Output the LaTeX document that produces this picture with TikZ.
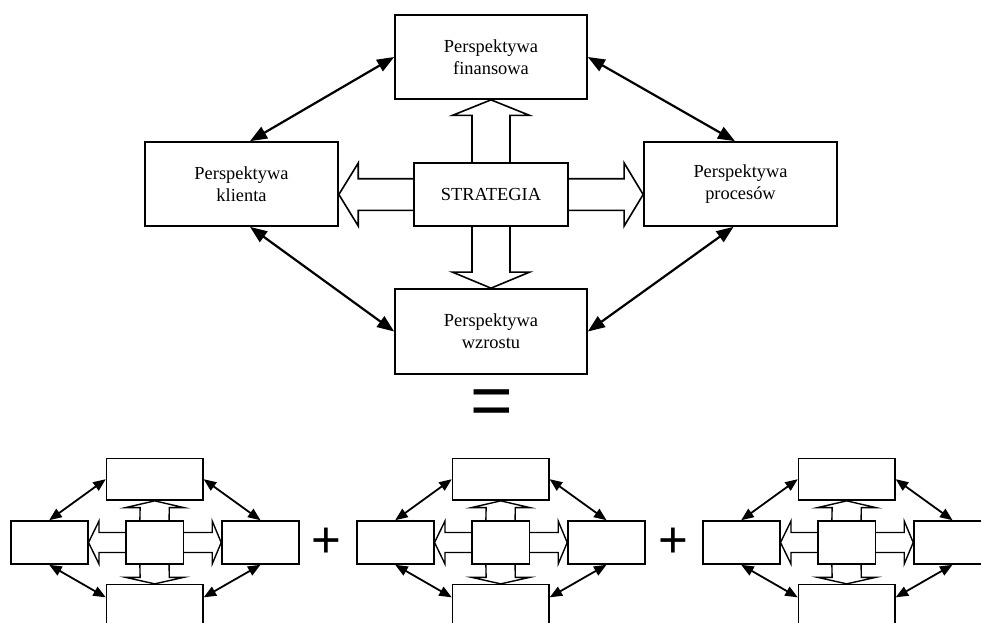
\documentclass[tikz,border=0pt]{standalone}
\usepackage{fontspec}
\setmainfont{Liberation Serif}
\newfontfamily\signfont{Liberation Sans}
\usetikzlibrary{arrows.meta,calc}
\begin{document}
\begin{tikzpicture}[x=1pt,y=-1pt,
  bigbox/.style={draw,line width=1.7pt,inner sep=0pt,align=center,
    font=\fontsize{18.4}{22}\selectfont},
  minibox/.style={draw,line width=1.6pt,inner sep=0pt},
  dbl/.style={line width=2.2pt,{Triangle[length=17pt,width=13pt]}-{Triangle[length=17pt,width=13pt]}},
  minidbl/.style={line width=1.8pt,{Triangle[length=12.5pt,width=10pt]}-{Triangle[length=12.5pt,width=10pt]}},
  hollow/.style={line width=1.6pt,line join=miter},
  minihollow/.style={line width=1.4pt,line join=miter},
  signtext/.style={inner sep=0pt,font=\signfont\fontsize{#1}{#1}\selectfont}]
\useasboundingbox (0,0) rectangle (981,622);
\clip (0,0) rectangle (981,622);

% ---- main diagram ----
\node[bigbox,minimum width=192pt,minimum height=84pt] (t) at (491,57) {Perspektywa\\finansowa};
\node[bigbox,minimum width=193pt,minimum height=84pt] (l) at (241.5,184) {Perspektywa\\klienta};
\node[bigbox,minimum width=193pt,minimum height=84pt] (r) at (740.5,184) {Perspektywa\\procesów};
\node[bigbox,minimum width=154pt,minimum height=63pt] (s) at (491,194.5) {STRATEGIA};
\node[bigbox,minimum width=192pt,minimum height=85pt] (b) at (491,331.5) {Perspektywa\\wzrostu};

% hollow arrows
\draw[hollow] ($(s.north)+(-19,0)$) -- ($(t.south)+(-19,15.5)$) -- ($(t.south)+(-38.5,15.5)$)
  -- (t.south) -- ($(t.south)+(38.5,15.5)$) -- ($(t.south)+(19,15.5)$) -- ($(s.north)+(19,0)$);
\draw[hollow] ($(s.south)+(-19,0)$) -- ($(b.north)+(-19,-16)$) -- ($(b.north)+(-38.5,-16)$)
  -- (b.north) -- ($(b.north)+(38.5,-16)$) -- ($(b.north)+(19,-16)$) -- ($(s.south)+(19,0)$);
\coordinate (ltip) at (l.east |- s.west);
\coordinate (rtip) at (r.west |- s.east);
\draw[hollow] ($(s.west)+(0,-15.8)$) -- ($(ltip)+(19.4,-15.8)$) -- ($(ltip)+(19.4,-31.5)$)
  -- (ltip) -- ($(ltip)+(19.4,31.5)$) -- ($(ltip)+(19.4,15.8)$) -- ($(s.west)+(0,15.8)$);
\draw[hollow] ($(s.east)+(0,-15.8)$) -- ($(rtip)+(-19,-15.8)$) -- ($(rtip)+(-19,-31.5)$)
  -- (rtip) -- ($(rtip)+(-19,31.5)$) -- ($(rtip)+(-19,15.8)$) -- ($(s.east)+(0,15.8)$);

% double arrows
\draw[dbl] ($(l.north)+(8.5,0)$) -- (t.west);
\draw[dbl] (t.east) -- ($(r.north)+(-5.5,0)$);
\draw[dbl] ($(l.south)+(8.5,0)$) -- (b.west);
\draw[dbl] (b.east) -- ($(r.south)+(-7,0)$);

% equals and plus signs
\node[signtext=73] (eq) at (491.5,408) {=};
\node[signtext=51] (p1) at (326.5,543) {+};
\node[signtext=51] (p2) at (673,543) {+};

% ---- mini diagrams ----
\foreach \i/\cx in {1/154.5,2/500.5,3/846.5}{
  \node[minibox,minimum width=57.6pt,minimum height=43pt] (c\i) at (\cx,542.5) {};
  \node[minibox,minimum width=77pt,minimum height=43pt] (l\i) at (\cx-105.3,542.5) {};
  \node[minibox,minimum width=77pt,minimum height=43pt] (r\i) at (\cx+106,542.5) {};
  \node[minibox,minimum width=96.3pt,minimum height=41.7pt] (t\i) at (\cx+0.2,479.2) {};
  \node[minibox,minimum width=96.3pt,minimum height=41.7pt] (b\i) at (\cx+0.2,605.5) {};
  \draw[minihollow] ($(c\i.north)+(-14.6,0)$) -- ($(t\i.south)+(-14.6,6.7)$) -- ($(t\i.south)+(-29,6.7)$)
    -- (t\i.south) -- ($(t\i.south)+(29,6.7)$) -- ($(t\i.south)+(14.6,6.7)$) -- ($(c\i.north)+(14.6,0)$);
  \draw[minihollow] ($(c\i.south)+(-14.6,0)$) -- ($(b\i.north)+(-14.6,-6.5)$) -- ($(b\i.north)+(-29,-6.5)$)
    -- (b\i.north) -- ($(b\i.north)+(29,-6.5)$) -- ($(b\i.north)+(14.6,-6.5)$) -- ($(c\i.south)+(14.6,0)$);
  \draw[minihollow] ($(c\i.west)+(0,-10)$) -- ($(l\i.east)+(10.5,-10)$) -- ($(l\i.east)+(10.5,-21.5)$)
    -- (l\i.east) -- ($(l\i.east)+(10.5,21.5)$) -- ($(l\i.east)+(10.5,10)$) -- ($(c\i.west)+(0,10)$);
  \draw[minihollow] ($(c\i.east)+(0,-10)$) -- ($(r\i.west)+(-9,-10)$) -- ($(r\i.west)+(-9,-21.5)$)
    -- (r\i.west) -- ($(r\i.west)+(-9,21.5)$) -- ($(r\i.west)+(-9,10)$) -- ($(c\i.east)+(0,10)$);
  \draw[minidbl] (l\i.north) -- (t\i.west);
  \draw[minidbl] (t\i.east) -- (r\i.north);
  \draw[minidbl] (l\i.south) -- ($(b\i.north west)+(0,13.5)$);
  \draw[minidbl] ($(b\i.north east)+(0,13.5)$) -- (r\i.south);
}
\end{tikzpicture}
\end{document}
